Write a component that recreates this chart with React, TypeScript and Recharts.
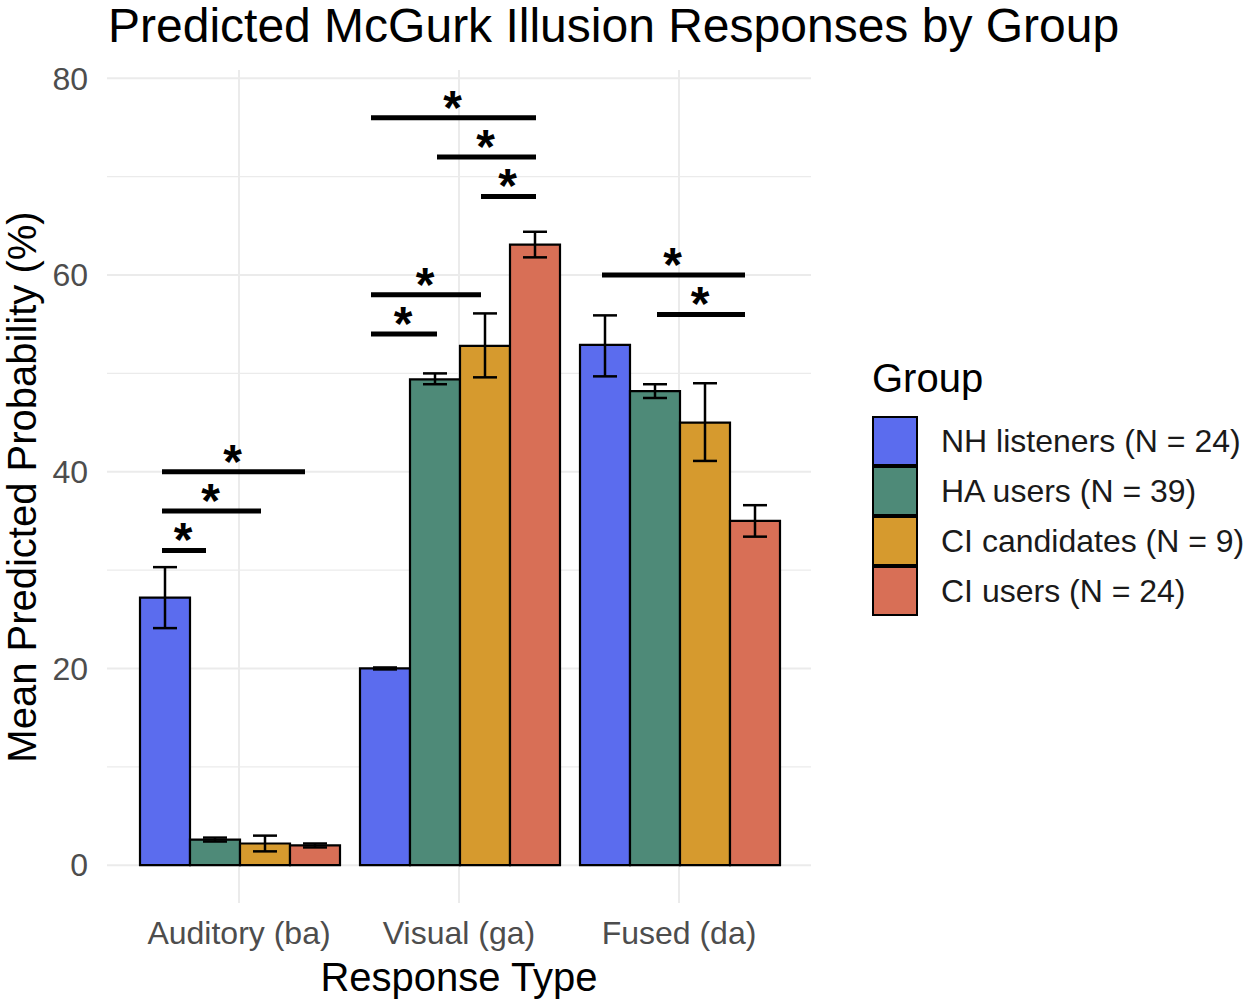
import {
  BarChart,
  Bar,
  XAxis,
  YAxis,
  CartesianGrid,
  ErrorBar,
  ReferenceLine,
  ReferenceDot,
} from "recharts";

const FONT = "'Liberation Sans', Arial, Helvetica, sans-serif";

const categories = ["Auditory (ba)", "Visual (ga)", "Fused (da)"];
const groups = ["NH listeners (N = 24)", "HA users (N = 39)", "CI candidates (N = 9)", "CI users (N = 24)"];
const groupColors = ["#5b6cee", "#4e8a78", "#d69a2e", "#d86f56"];

// mean predicted probability (%) per response type
const nhMean = [27.2, 20.0, 52.9];
const haMean = [2.6, 49.4, 48.2];
const ciCandMean = [2.2, 52.8, 45.0];
const ciUserMean = [2.0, 63.1, 35.0];

// lower / upper error limits
const nhLow = [24.1, 19.9, 49.7];
const nhHigh = [30.3, 20.1, 55.9];
const haLow = [2.4, 48.9, 47.5];
const haHigh = [2.8, 50.0, 48.9];
const ciCandLow = [1.4, 49.6, 41.1];
const ciCandHigh = [3.0, 56.1, 49.0];
const ciUserLow = [1.8, 61.8, 33.4];
const ciUserHigh = [2.2, 64.4, 36.6];

const yTicks = [0, 20, 40, 60, 80];
const yMinorTicks = [10, 30, 50, 70];
const yDomain = [-3.85, 80.85];

// significance brackets: x in category units (1 = Auditory, 2 = Visual, 3 = Fused)
const sigFrom = [0.65, 0.65, 0.65, 1.6, 1.9, 2.1, 1.6, 1.6, 2.65, 2.9];
const sigTo = [0.85, 1.1, 1.3, 2.35, 2.35, 2.35, 2.1, 1.9, 3.3, 3.3];
const sigY = [32, 36, 40, 76, 72, 68, 58, 54, 60, 56];

const means = [nhMean, haMean, ciCandMean, ciUserMean];
const lows = [nhLow, haLow, ciCandLow, ciUserLow];
const highs = [nhHigh, haHigh, ciCandHigh, ciUserHigh];

const data = categories.map((cat, i) => {
  const row: Record<string, any> = { cat, pos: i + 1 };
  means.forEach((m, g) => {
    row[`g${g}`] = m[i];
    row[`e${g}`] = [m[i] - lows[g][i], highs[g][i] - m[i]];
  });
  return row;
});

const W = 1252;
const H = 1003;

export default function App() {
  return (
    <div style={{ position: "absolute", left: 0, top: 0, width: W, height: H, background: "#fff", fontFamily: FONT }}>
      <div style={{ position: "absolute", left: 108, top: 0, fontSize: 48, lineHeight: "52px", color: "#000", whiteSpace: "nowrap" }}>
        Predicted McGurk Illusion Responses by Group
      </div>
      <div
        style={{
          position: "absolute", left: 22, top: 487, fontSize: 40, color: "#000", whiteSpace: "nowrap",
          transform: "translate(-50%, -50%) rotate(-90deg)",
        }}
      >
        Mean Predicted Probability (%)
      </div>
      <div style={{ position: "absolute", left: 459, top: 955, fontSize: 40, lineHeight: "44px", color: "#000", transform: "translateX(-50%)", whiteSpace: "nowrap" }}>
        Response Type
      </div>

      <BarChart
        width={W}
        height={H}
        data={data}
        margin={{ top: 70, right: 441, bottom: 40, left: 47 }}
        barCategoryGap="5%"
        barGap={0}
        style={{ position: "absolute", left: 0, top: 0 }}
      >
        <CartesianGrid xAxisId="cat" yAxisId="minor" stroke="#ebebeb" strokeWidth={1.2} vertical={false} syncWithTicks />
        <CartesianGrid xAxisId="cat" yAxisId="main" stroke="#ebebeb" strokeWidth={2} syncWithTicks />
        <XAxis
          xAxisId="cat"
          dataKey="cat"
          height={60}
          padding={{ left: 22, right: 22 }}
          axisLine={false}
          tickLine={false}
          tickSize={0}
          tickMargin={18}
          tick={{ fill: "#4d4d4d", fontSize: 32, fontFamily: FONT }}
          interval={0}
        />
        <XAxis xAxisId="sig" dataKey="pos" type="number" domain={[0.4, 3.6]} hide allowDataOverflow />
        <YAxis
          yAxisId="main"
          width={60}
          domain={yDomain}
          ticks={yTicks}
          allowDataOverflow
          axisLine={false}
          tickLine={false}
          tickSize={0}
          tickMargin={19}
          tick={{ fill: "#4d4d4d", fontSize: 32, fontFamily: FONT }}
        />
        <YAxis yAxisId="minor" domain={yDomain} ticks={yMinorTicks} allowDataOverflow hide />
        {groups.map((g, i) => (
          <Bar key={g} xAxisId="cat" yAxisId="main" dataKey={`g${i}`} fill={groupColors[i]} stroke="#000" strokeWidth={2.2} isAnimationActive={false}>
            <ErrorBar dataKey={`e${i}`} width={12} stroke="#000" strokeWidth={2.5} />
          </Bar>
        ))}
        {sigY.map((y, i) => (
          <ReferenceLine
            key={`l${i}`}
            xAxisId="sig"
            yAxisId="main"
            segment={[{ x: sigFrom[i], y }, { x: sigTo[i], y }]}
            stroke="#000"
            strokeWidth={5}
          />
        ))}
        {sigY.map((y, i) => (
          <ReferenceDot
            key={`s${i}`}
            xAxisId="sig"
            yAxisId="main"
            x={(sigFrom[i] + sigTo[i]) / 2}
            y={y}
            r={0}
            fill="none"
            stroke="none"
            label={{ value: "*", position: "center", dx: -1, dy: -11, fontSize: 48, fontWeight: "bold", fill: "#000", fontFamily: FONT }}
          />
        ))}
      </BarChart>

      <div style={{ position: "absolute", left: 872, top: 355, color: "#000" }}>
        <div style={{ fontSize: 40, lineHeight: "46px", marginBottom: 15 }}>Group</div>
        {groups.map((g, i) => (
          <div key={g} style={{ display: "flex", alignItems: "center", height: 50 }}>
            <div style={{ width: 46, height: 50, boxSizing: "border-box", background: groupColors[i], border: "2px solid #000" }} />
            <span style={{ fontSize: 32, marginLeft: 23, whiteSpace: "nowrap", color: "#1a1a1a" }}>{g}</span>
          </div>
        ))}
      </div>
    </div>
  );
}
